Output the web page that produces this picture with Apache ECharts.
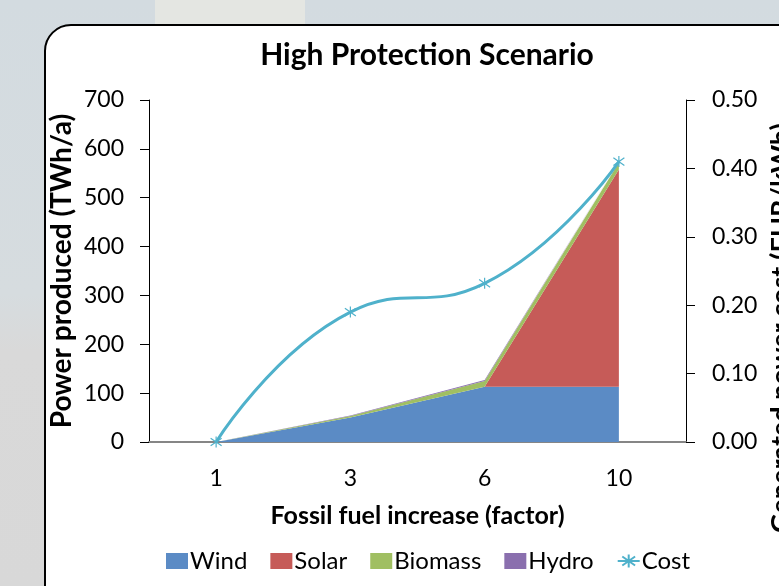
<!DOCTYPE html>
<html>
<head>
<meta charset="utf-8">
<script src="https://cdn.jsdelivr.net/npm/echarts@6/dist/echarts.min.js"></script>
<style>
  html, body { margin: 0; padding: 0; }
  #main { width: 779px; height: 586px; }
</style>
</head>
<body>
<div id="main"></div>
<script>
// data
var categories = ['1', '3', '6', '10'];
var wind = [0, 50, 113, 113];
var solar = [0, 0, 0, 445];
var biomass = [0, 3, 12, 14];
var hydro = [0, 1, 2, 2];
var cost = [0, 0.19, 0.232, 0.41];

var font = 'Lato, "Open Sans", sans-serif';
var chart = echarts.init(document.getElementById('main'));

// asterisk marker like the spreadsheet "star"
var star = 'path://M5,0L5,10M1.5,1.5L8.5,8.5M8.5,1.5L1.5,8.5';

function areaSeries(name, data, color) {
    return {
        name: name,
        type: 'line',
        stack: 'power',
        data: data,
        symbol: 'none',
        lineStyle: { width: 0 },
        itemStyle: { color: color },
        areaStyle: { color: color, opacity: 1 }
    };
}

var option = {
    backgroundColor: '#d5dce0',
    animation: false,
    graphic: [
        {
            type: 'rect', z: -10,
            shape: { x: 0, y: 0, width: 779, height: 586 },
            style: {
                fill: new echarts.graphic.LinearGradient(0, 0, 0, 1, [
                    { offset: 0, color: '#d3dbe0' },
                    { offset: 0.5, color: '#d6dcdf' },
                    { offset: 0.6, color: '#d9d9d9' },
                    { offset: 1, color: '#d8d8d8' }
                ])
            }
        },
        { type: 'rect', z: -9, shape: { x: 155, y: 0, width: 150, height: 30 }, style: { fill: '#e4e6e2' } },
        {
            type: 'rect', z: -5,
            shape: { x: 45, y: 25, width: 780, height: 590, r: 26 },
            style: { fill: '#ffffff', stroke: '#000000', lineWidth: 2 }
        },
        {
            type: 'text', z: 5,
            x: 781, y: 328, rotation: Math.PI / 2,
            style: {
                text: 'Generated power cost (EUR/kWh)',
                font: 'bold 27px ' + font,
                fill: '#000',
                align: 'center',
                verticalAlign: 'middle'
            }
        }
    ],
    title: {
        text: 'High Protection Scenario',
        left: 422,
        top: 35,
        textAlign: 'center',
        textStyle: { fontFamily: font, fontSize: 30, fontWeight: 'bold', color: '#000' }
    },
    legend: {
        bottom: 8,
        left: 161,
        itemGap: 23,
        itemWidth: 22,
        itemHeight: 16,
        textStyle: { fontFamily: font, fontSize: 24, color: '#000', padding: [0, 0, 0, -3] },
        data: [
            { name: 'Wind', icon: 'rect' },
            { name: 'Solar', icon: 'rect' },
            { name: 'Biomass', icon: 'rect' },
            { name: 'Hydro', icon: 'rect' },
            { name: 'Cost' }
        ]
    },
    grid: { left: 149, right: 93, top: 100, bottom: 144 },
    xAxis: {
        type: 'category',
        data: categories,
        boundaryGap: true,
        name: 'Fossil fuel increase (factor)',
        nameLocation: 'middle',
        nameGap: 61,
        nameMoveOverlap: false,
        nameTextStyle: { fontFamily: font, fontSize: 25, fontWeight: 'bold', color: '#000' },
        axisLine: { lineStyle: { color: '#868686', width: 2 } },
        axisTick: { length: 10, lineStyle: { color: '#333', width: 1 } },
        axisLabel: { fontFamily: font, fontSize: 23, color: '#000', margin: 25 }
    },
    yAxis: [
        {
            type: 'value',
            min: 0, max: 700, interval: 100,
            name: 'Power produced (TWh/a)',
            nameLocation: 'middle',
            nameGap: 73,
            nameMoveOverlap: false,
            nameTextStyle: { fontFamily: font, fontSize: 28, fontWeight: 'bold', color: '#000' },
            axisLine: { show: true, lineStyle: { color: '#000', width: 1 } },
            axisTick: { show: true, length: 9, lineStyle: { color: '#000' } },
            axisLabel: { fontFamily: font, fontSize: 23, color: '#000', margin: 25 },
            splitLine: { show: false }
        },
        {
            type: 'value',
            min: 0, max: 0.5, interval: 0.1,
            position: 'right',
            axisLine: { show: true, lineStyle: { color: '#000', width: 1 } },
            axisTick: { show: true, length: 9, lineStyle: { color: '#000' } },
            axisLabel: {
                fontFamily: font, fontSize: 23, color: '#000', margin: 26,
                formatter: function (v) { return v.toFixed(2); }
            },
            splitLine: { show: false }
        }
    ],
    series: [
        areaSeries('Wind', wind, '#5b8bc5'),
        areaSeries('Solar', solar, '#c65b58'),
        areaSeries('Biomass', biomass, '#a0bf62'),
        areaSeries('Hydro', hydro, '#8a6fae'),
        {
            name: 'Cost',
            type: 'line',
            yAxisIndex: 1,
            data: cost,
            smooth: 0.5,
            symbol: star,
            symbolSize: 11,
            lineStyle: { color: '#4fb1cb', width: 3 },
            itemStyle: { color: '#4fb1cb', borderColor: '#4fb1cb', borderWidth: 1.2 },
            z: 5
        }
    ]
};

option && chart.setOption(option);
</script>
</body>
</html>
